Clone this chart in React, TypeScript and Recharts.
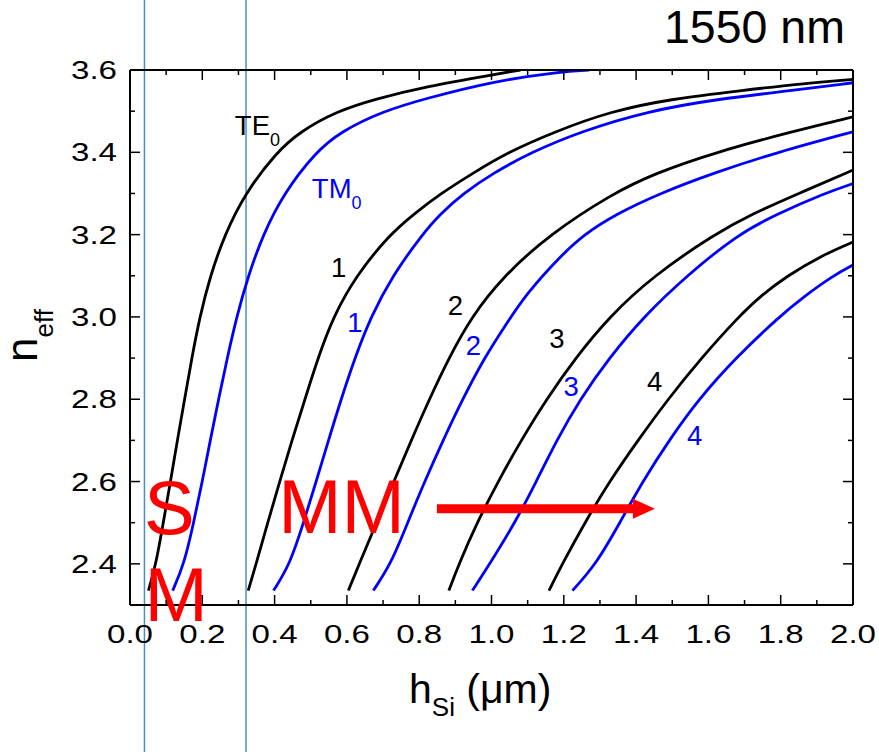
import React from 'react';
import { LineChart, Line, XAxis, YAxis, ReferenceLine, ReferenceDot } from 'recharts';

// ---- axis ticks ----
const X_MAJOR = [0.0, 0.2, 0.4, 0.6, 0.8, 1.0, 1.2, 1.4, 1.6, 1.8, 2.0];
const X_MINOR = [0.1, 0.3, 0.5, 0.7, 0.9, 1.1, 1.3, 1.5, 1.7, 1.9];
const Y_MAJOR = [2.4, 2.6, 2.8, 3.0, 3.2, 3.4, 3.6];
const Y_MINOR = [2.5, 2.7, 2.9, 3.1, 3.3, 3.5];
const X_DOMAIN = [0, 2];
const Y_DOMAIN = [2.3, 3.6];

// ---- mode curves: [h_Si (um), n_eff] ----
const TE0 = [[0.051, 2.335], [0.072, 2.40], [0.092, 2.50], [0.112, 2.60], [0.131, 2.70], [0.151, 2.80], [0.171, 2.90], [0.193, 3.00], [0.222, 3.10], [0.262, 3.20], [0.318, 3.30], [0.405, 3.40], [0.470, 3.45], [0.572, 3.50], [0.68, 3.53], [0.82, 3.56], [1.00, 3.588], [1.08, 3.60]];
const TM0 = [[0.118, 2.335], [0.150, 2.40], [0.176, 2.50], [0.200, 2.60], [0.222, 2.70], [0.245, 2.80], [0.269, 2.90], [0.295, 3.00], [0.327, 3.10], [0.368, 3.20], [0.425, 3.30], [0.513, 3.40], [0.582, 3.45], [0.700, 3.50], [0.815, 3.53], [1.00, 3.572], [1.19, 3.596], [1.27, 3.60]];
const TE1 = [[0.327, 2.335], [0.349, 2.40], [0.381, 2.50], [0.414, 2.60], [0.448, 2.70], [0.484, 2.80], [0.520, 2.90], [0.562, 3.00], [0.625, 3.10], [0.718, 3.20], [0.785, 3.25], [0.860, 3.30], [0.950, 3.35], [1.045, 3.40], [1.175, 3.45], [1.33, 3.50], [1.50, 3.53], [1.69, 3.55], [1.86, 3.567], [2.0, 3.577]];
const TM1 = [[0.397, 2.335], [0.443, 2.40], [0.480, 2.50], [0.515, 2.60], [0.549, 2.70], [0.584, 2.80], [0.622, 2.90], [0.666, 3.00], [0.726, 3.10], [0.808, 3.20], [0.858, 3.25], [0.922, 3.30], [1.005, 3.35], [1.110, 3.40], [1.245, 3.45], [1.43, 3.50], [1.63, 3.53], [1.83, 3.55], [2.0, 3.569]];
const TE2 = [[0.604, 2.335], [0.634, 2.40], [0.682, 2.50], [0.730, 2.60], [0.778, 2.70], [0.828, 2.80], [0.882, 2.90], [0.944, 3.00], [1.034, 3.10], [1.160, 3.20], [1.335, 3.30], [1.455, 3.35], [1.62, 3.40], [1.83, 3.45], [2.0, 3.486]];
const TM2 = [[0.673, 2.335], [0.722, 2.40], [0.768, 2.50], [0.815, 2.60], [0.866, 2.70], [0.920, 2.80], [0.980, 2.90], [1.035, 2.975], [1.097, 3.057], [1.189, 3.146], [1.255, 3.20], [1.345, 3.25], [1.465, 3.30], [1.615, 3.35], [1.79, 3.40], [2.0, 3.45]];
const TE3 = [[0.882, 2.335], [0.910, 2.40], [0.960, 2.50], [1.018, 2.60], [1.082, 2.70], [1.152, 2.80], [1.232, 2.90], [1.325, 3.00], [1.448, 3.10], [1.615, 3.20], [1.72, 3.25], [1.85, 3.30], [2.0, 3.357]];
const TM3 = [[0.947, 2.335], [0.995, 2.40], [1.065, 2.50], [1.124, 2.60], [1.180, 2.70], [1.245, 2.80], [1.325, 2.90], [1.420, 3.00], [1.540, 3.10], [1.680, 3.20], [1.79, 3.25], [1.92, 3.30], [2.0, 3.324]];
const TE4 = [[1.159, 2.335], [1.196, 2.40], [1.258, 2.50], [1.326, 2.60], [1.405, 2.70], [1.488, 2.80], [1.580, 2.90], [1.683, 3.00], [1.743, 3.05], [1.818, 3.10], [1.915, 3.15], [2.0, 3.182]];
const TM4 = [[1.224, 2.335], [1.290, 2.40], [1.355, 2.50], [1.418, 2.60], [1.491, 2.70], [1.573, 2.80], [1.675, 2.90], [1.795, 3.00], [1.865, 3.05], [1.945, 3.10], [2.0, 3.126]];

const BLACK_SERIES = [TE0, TE1, TE2, TE3, TE4];
const BLUE_SERIES = [TM0, TM1, TM2, TM3, TM4];

// ---- curve labels: [text, sub, x, n] ----
const BLACK_LABELS = [['TE', '0', 0.290, 3.442], ['1', '', 0.577, 3.096], ['2', '', 0.900, 3.004], ['3', '', 1.181, 2.924], ['4', '', 1.451, 2.821]];
const BLUE_LABELS = [['TM', '0', 0.503, 3.289], ['1', '', 0.622, 2.963], ['2', '', 0.950, 2.907], ['3', '', 1.220, 2.809], ['4', '', 1.562, 2.690]];

// ---- annotations ----
const REGION_LINES_X = [0.04, 0.321];
const REGION_LINE_Y = [3.78, 1.93];
const RED_TEXTS = [['S', 0.039, 2.473], ['M', 0.040, 2.262], ['MM', 0.410, 2.476]];
const ARROW = { x1: 0.849, x2: 1.452, n: 2.534 };

const FONT = '"Liberation Sans", Arial, Helvetica, sans-serif';
const W = 879;
const H = 752;

const toObj = (arr) => arr.map(([x, n]) => ({ x, n }));
const isMajor = (v) => Math.abs(Math.round(v * 10)) % 2 === 0;
const sortNum = (a) => [...a].sort((p, q) => p - q);
const X_TICKS = sortNum([...X_MAJOR, ...X_MINOR]);
const Y_TICKS = sortNum([...Y_MAJOR, ...Y_MINOR]);

const TICK_FONT = 26;
const TICK_LABEL_W = 46;

const BottomTick = (p) => {
  const v = p.payload.value;
  const major = isMajor(v);
  return (
    <g>
      <line x1={p.x} x2={p.x} y1={p.y} y2={p.y - (major ? 10 : 5)} stroke="#000" strokeWidth={1.5} />
      {major && (
        <text
          x={p.x}
          y={p.y + 38}
          textAnchor="middle"
          fontSize={TICK_FONT}
          fontFamily={FONT}
          fill="#000"
          textLength={TICK_LABEL_W}
          lengthAdjust="spacingAndGlyphs"
        >
          {v.toFixed(1)}
        </text>
      )}
    </g>
  );
};
const TopTick = (p) => {
  const major = isMajor(p.payload.value);
  return <line x1={p.x} x2={p.x} y1={p.y} y2={p.y + (major ? 10 : 5)} stroke="#000" strokeWidth={1.5} />;
};
const LeftTick = (p) => {
  const v = p.payload.value;
  const major = isMajor(v);
  return (
    <g>
      <line x1={p.x} x2={p.x + (major ? 10 : 5)} y1={p.y} y2={p.y} stroke="#000" strokeWidth={1.5} />
      {major && (
        <text
          x={p.x - 13}
          y={p.y + 9}
          textAnchor="end"
          fontSize={TICK_FONT}
          fontFamily={FONT}
          fill="#000"
          textLength={TICK_LABEL_W}
          lengthAdjust="spacingAndGlyphs"
        >
          {v.toFixed(1)}
        </text>
      )}
    </g>
  );
};
const RightTick = (p) => {
  const major = isMajor(p.payload.value);
  return <line x1={p.x} x2={p.x - (major ? 10 : 5)} y1={p.y} y2={p.y} stroke="#000" strokeWidth={1.5} />;
};

const makeLabelShape = (text, sub, color) => (p) => (
  <text x={p.cx} y={p.cy} fontSize={27.5} fontFamily={FONT} fill={color} textAnchor={sub ? 'start' : 'middle'}>
    {text}
    {sub && (
      <tspan fontSize={18} dy={11}>
        {sub}
      </tspan>
    )}
  </text>
);

const makeRedText = (text) => (p) => (
  <text x={p.cx} y={p.cy} fontSize={76} fontFamily={FONT} fill="#ff0000">
    {text}
  </text>
);

const ArrowShape = (p) => {
  const { x1, y1, x2 } = p;
  const headLen = 22;
  return (
    <g>
      <line x1={x1} y1={y1} x2={x2 - headLen + 2} y2={y1} stroke="#ff0000" strokeWidth={9} />
      <polygon points={`${x2 - headLen},${y1 - 10} ${x2},${y1} ${x2 - headLen},${y1 + 10}`} fill="#ff0000" />
    </g>
  );
};

const frameAxis = { stroke: '#000', strokeWidth: 2 };

export default function App() {
  return (
    <div style={{ position: 'absolute', left: 0, top: 0, width: W, height: H, background: '#fff' }}>
      <LineChart width={W} height={H} margin={{ top: 60, right: 16, bottom: 107, left: 70 }}>
        <XAxis
          xAxisId={0}
          type="number"
          dataKey="x"
          domain={X_DOMAIN}
          ticks={X_TICKS}
          interval={0}
          allowDataOverflow
          height={40}
          tickSize={0}
          tickMargin={0}
          tickLine={false}
          axisLine={frameAxis}
          tick={(p) => <BottomTick {...p} />}
        />
        <XAxis
          xAxisId="top"
          orientation="top"
          type="number"
          dataKey="x"
          domain={X_DOMAIN}
          ticks={X_TICKS}
          interval={0}
          allowDataOverflow
          height={10}
          tickSize={0}
          tickMargin={0}
          tickLine={false}
          axisLine={frameAxis}
          tick={(p) => <TopTick {...p} />}
        />
        <YAxis
          yAxisId={0}
          type="number"
          domain={Y_DOMAIN}
          ticks={Y_TICKS}
          interval={0}
          allowDataOverflow
          width={60}
          tickSize={0}
          tickMargin={0}
          tickLine={false}
          axisLine={frameAxis}
          tick={(p) => <LeftTick {...p} />}
        />
        <YAxis
          yAxisId="right"
          orientation="right"
          type="number"
          domain={Y_DOMAIN}
          ticks={Y_TICKS}
          interval={0}
          allowDataOverflow
          width={10}
          tickSize={0}
          tickMargin={0}
          tickLine={false}
          axisLine={frameAxis}
          tick={(p) => <RightTick {...p} />}
        />

        {REGION_LINES_X.map((x, i) => (
          <ReferenceLine
            key={`reg${i}`}
            segment={[{ x, y: REGION_LINE_Y[0] }, { x, y: REGION_LINE_Y[1] }]}
            stroke="#4a8fc2"
            strokeWidth={1.5}
            ifOverflow="visible"
          />
        ))}

        {BLACK_SERIES.map((s, i) => (
          <Line
            key={`te${i}`}
            data={toObj(s)}
            dataKey="n"
            type="basis"
            stroke="#000000"
            strokeWidth={2.8}
            dot={false}
            activeDot={false}
            isAnimationActive={false}
          />
        ))}
        {BLUE_SERIES.map((s, i) => (
          <Line
            key={`tm${i}`}
            data={toObj(s)}
            dataKey="n"
            type="basis"
            stroke="#0000ff"
            strokeWidth={2.8}
            dot={false}
            activeDot={false}
            isAnimationActive={false}
          />
        ))}

        {BLACK_LABELS.map(([t, sub, x, n], i) => (
          <ReferenceDot key={`bl${i}`} x={x} y={n} r={0} ifOverflow="visible" shape={makeLabelShape(t, sub, '#000')} />
        ))}
        {BLUE_LABELS.map(([t, sub, x, n], i) => (
          <ReferenceDot key={`ul${i}`} x={x} y={n} r={0} ifOverflow="visible" shape={makeLabelShape(t, sub, '#0000ff')} />
        ))}
        {RED_TEXTS.map(([t, x, n], i) => (
          <ReferenceDot key={`rt${i}`} x={x} y={n} r={0} ifOverflow="visible" shape={makeRedText(t)} />
        ))}
        <ReferenceLine
          segment={[{ x: ARROW.x1, y: ARROW.n }, { x: ARROW.x2, y: ARROW.n }]}
          ifOverflow="visible"
          shape={(p) => <ArrowShape {...p} />}
        />
      </LineChart>
      <svg width={W} height={H} style={{ position: 'absolute', left: 0, top: 0, pointerEvents: 'none' }}>
        <text x={664} y={43} fontSize={46.5} fontFamily={FONT} fill="#000">1550 nm</text>
        <text x={409} y={703} fontSize={41} fontFamily={FONT} fill="#000">
          h
          <tspan fontSize={26} dy={13}>Si</tspan>
          <tspan dy={-13}> (μm)</tspan>
        </text>
        <text x={37} y={362} fontSize={44} fontFamily={FONT} fill="#000" transform="rotate(-90 37 362)">
          n
          <tspan fontSize={26} dy={16}>eff</tspan>
        </text>
      </svg>
    </div>
  );
}
